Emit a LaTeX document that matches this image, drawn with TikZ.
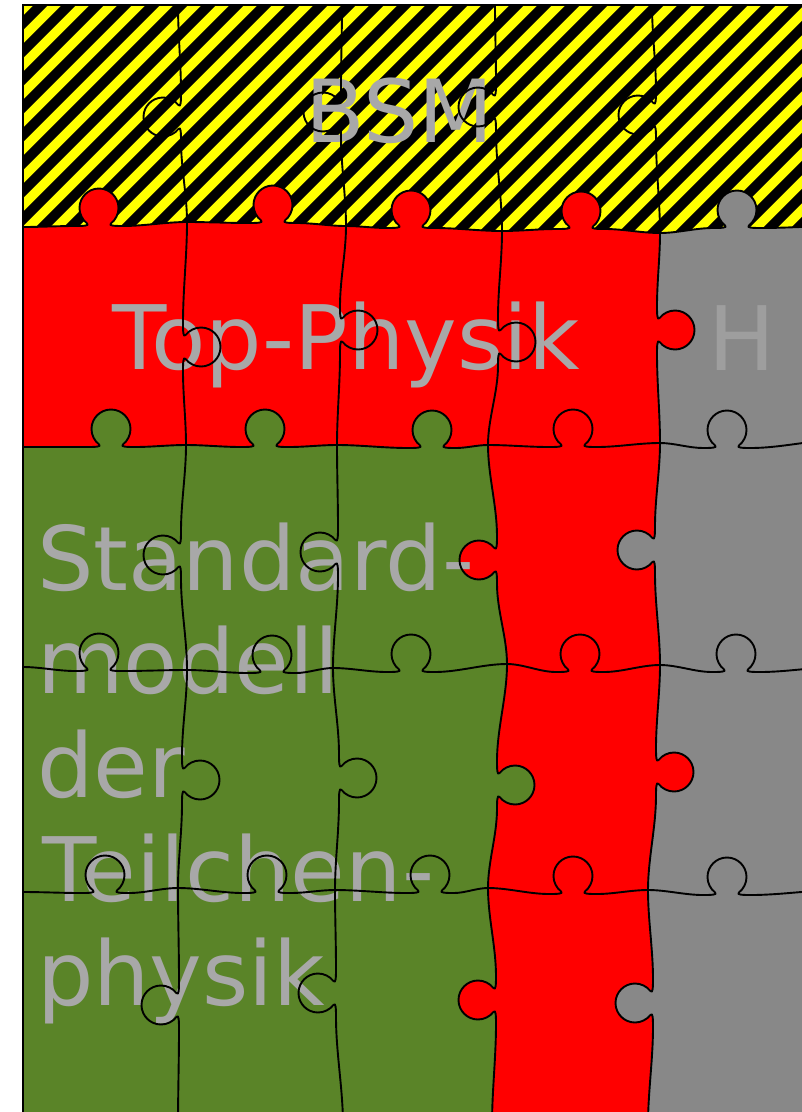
\documentclass[tikz,border=0pt]{standalone}
\usepackage{fontspec}
\setmainfont{DejaVu Sans}

\definecolor{pzred}{RGB}{255,0,0}
\definecolor{pzgreen}{RGB}{90,132,40}
\definecolor{pzgray}{RGB}{136,136,136}
\definecolor{pzyellow}{RGB}{255,255,0}
\definecolor{lbltext}{RGB}{168,168,168}
\definecolor{lblh}{RGB}{158,158,158}

% puzzle knob on a horizontal edge: centre x, base y, travel sign, normal sign
\newcommand\pzhtab[4]{.. controls ({#1-16*(#3)},{#2}) and ({#1-8.85*(#3)},{#2+0.17*(#4)}) .. ({#1-12*(#3)},{#2+2.63*(#4)})
 .. controls ({#1-16.73*(#3)},{#2+6.32*(#4)}) and ({#1-19.5*(#3)},{#2+12*(#4)}) .. ({#1-19.5*(#3)},{#2+18*(#4)})
 .. controls ({#1-19.5*(#3)},{#2+28.77*(#4)}) and ({#1-10.77*(#3)},{#2+37.5*(#4)}) .. ({#1},{#2+37.5*(#4)})
 .. controls ({#1+10.77*(#3)},{#2+37.5*(#4)}) and ({#1+19.5*(#3)},{#2+28.77*(#4)}) .. ({#1+19.5*(#3)},{#2+18*(#4)})
 .. controls ({#1+19.5*(#3)},{#2+12*(#4)}) and ({#1+16.73*(#3)},{#2+6.32*(#4)}) .. ({#1+12*(#3)},{#2+2.63*(#4)})
 .. controls ({#1+8.85*(#3)},{#2+0.17*(#4)}) and ({#1+16*(#3)},{#2}) .. ({#1+24*(#3)},{#2})}
% puzzle knob on a vertical edge: edge x, centre y, travel sign, normal sign
\newcommand\pzvtab[4]{.. controls ({#1},{#2-16*(#3)}) and ({#1+0.17*(#4)},{#2-8.85*(#3)}) .. ({#1+2.63*(#4)},{#2-12*(#3)})
 .. controls ({#1+6.32*(#4)},{#2-16.73*(#3)}) and ({#1+12*(#4)},{#2-19.5*(#3)}) .. ({#1+18*(#4)},{#2-19.5*(#3)})
 .. controls ({#1+28.77*(#4)},{#2-19.5*(#3)}) and ({#1+37.5*(#4)},{#2-10.77*(#3)}) .. ({#1+37.5*(#4)},{#2})
 .. controls ({#1+37.5*(#4)},{#2+10.77*(#3)}) and ({#1+28.77*(#4)},{#2+19.5*(#3)}) .. ({#1+18*(#4)},{#2+19.5*(#3)})
 .. controls ({#1+12*(#4)},{#2+19.5*(#3)}) and ({#1+6.32*(#4)},{#2+16.73*(#3)}) .. ({#1+2.63*(#4)},{#2+12*(#3)})
 .. controls ({#1+0.17*(#4)},{#2+8.85*(#3)}) and ({#1},{#2+16*(#3)}) .. ({#1},{#2+24*(#3)})}
% smooth joins with horizontal / vertical tangents at both ends
\newcommand\pzhcon[4]{.. controls ({(#1)+((#3)-(#1))/3},{#2}) and ({(#3)-((#3)-(#1))/3},{#4}) .. ({#3},{#4})}
\newcommand\pzvcon[4]{.. controls ({#1},{(#2)+((#4)-(#2))/3}) and ({#3},{(#4)-((#4)-(#2))/3}) .. ({#3},{#4})}
% one piece side: corner a, knob position, corner b, travel sign (knob points up)
\newcommand\pzhseg[7]{\pzhcon{#1}{#2}{(#3)-24*(#7)}{#4}\pzhtab{#3}{#4}{#7}{-1}\pzhcon{(#3)+24*(#7)}{#4}{#5}{#6}}
% one piece side: corner a, knob position, corner b, travel sign, knob side
\newcommand\pzvseg[8]{\pzvcon{#1}{#2}{#3}{(#4)-24*(#7)}\pzvtab{#3}{#4}{#7}{#8}\pzvcon{#3}{(#4)+24*(#7)}{#5}{#6}}

\begin{document}
\begin{tikzpicture}[x=1pt,y=-1pt,
  edge/.style={draw=black,line width=1.9pt,line join=round},
  border/.style={draw=black,line width=2.2pt},
  lbl/.style={text=lbltext,inner sep=0pt,outer sep=0pt,anchor=base west,
              font=\fontsize{89}{104}\selectfont}]
\useasboundingbox (0,0) rectangle (802,1112);
\begin{scope}
\clip (0,0) rectangle (802,1112);

% base colour (Higgs column)
\fill[pzgray] (23,5) rectangle (840,1125);

% top-physics pieces
\fill[pzred] (23,227)
  \pzhseg{23}{227}{99}{226}{187}{222}{1}
  \pzhseg{187}{222}{273}{223}{346}{226}{1}
  \pzhseg{346}{226}{411}{228}{502}{231}{1}
  \pzhseg{502}{231}{581}{229}{660}{233}{1}
  \pzvseg{660}{233}{657}{330}{660}{443}{1}{1}
  \pzvseg{660}{443}{655}{550}{660}{665}{1}{-1}
  \pzvseg{660}{665}{656}{772}{648}{890}{1}{1}
  \pzvseg{648}{890}{653}{1003}{648}{1125}{1}{-1}
  -- (492,1125)
  \pzvseg{492}{1125}{496}{1000}{488}{888}{-1}{-1}
  \pzvseg{488}{888}{497}{785}{507}{664}{-1}{1}
  \pzvseg{507}{664}{497}{560}{488}{445}{-1}{-1}
  \pzhseg{488}{445}{432}{448}{337}{445}{-1}
  \pzhseg{337}{445}{265}{447}{186}{445}{-1}
  \pzhseg{186}{445}{111}{447}{23}{447}{-1}
  -- cycle;

% standard-model pieces
\fill[pzgreen] (23,447)
  \pzhseg{23}{447}{111}{447}{186}{445}{1}
  \pzhseg{186}{445}{265}{447}{337}{445}{1}
  \pzhseg{337}{445}{432}{448}{488}{445}{1}
  \pzvseg{488}{445}{497}{560}{507}{664}{1}{-1}
  \pzvseg{507}{664}{497}{785}{488}{888}{1}{1}
  \pzvseg{488}{888}{496}{1000}{492}{1125}{1}{-1}
  -- (23,1125) -- cycle;

% BSM row: yellow with black diagonal stripes
\begin{scope}
\clip (23,5) -- (840,5) -- (840,226)
  \pzhseg{840}{226}{737}{228}{660}{233}{-1}
  \pzhseg{660}{233}{581}{229}{502}{231}{-1}
  \pzhseg{502}{231}{411}{228}{346}{226}{-1}
  \pzhseg{346}{226}{273}{223}{187}{222}{-1}
  \pzhseg{187}{222}{99}{226}{23}{227}{-1}
  -- cycle;
\fill[pzyellow] (0,0) rectangle (840,270);
\foreach \k in {0,28,...,1148}
  \draw[black,line width=10pt] ({\k-300},290) -- ({\k+20},-30);
\end{scope}

% labels
\node[lbl,font=\fontsize{87}{100}\selectfont] (bsm) at (305,142) {BSM};
\node[lbl] (top) at (112,369) {Top-Physik};
\node[lbl,text=lblh] (higgs) at (708,370) {H};
\node[lbl] (sm1) at (37,590) {Standard-};
\node[lbl] (sm2) at (37,693) {modell};
\node[lbl] (sm3) at (37,797) {der};
\node[lbl] (sm4) at (42,901) {Teilchen-};
\node[lbl] (sm5) at (37,1005) {physik};

% horizontal piece borders
\draw[edge] (23,227)
  \pzhseg{23}{227}{99}{226}{187}{222}{1}
  \pzhseg{187}{222}{273}{223}{346}{226}{1}
  \pzhseg{346}{226}{411}{228}{502}{231}{1}
  \pzhseg{502}{231}{581}{229}{660}{233}{1}
  \pzhseg{660}{233}{737}{228}{840}{226}{1};
\draw[edge] (23,447)
  \pzhseg{23}{447}{111}{447}{186}{445}{1}
  \pzhseg{186}{445}{265}{447}{337}{445}{1}
  \pzhseg{337}{445}{432}{448}{488}{445}{1}
  \pzhseg{488}{445}{573}{447}{660}{443}{1}
  \pzhseg{660}{443}{727}{448}{840}{440}{1};
\draw[edge] (23,667)
  \pzhseg{23}{667}{99}{671}{187}{670}{1}
  \pzhseg{187}{670}{272}{673}{333}{668}{1}
  \pzhseg{333}{668}{411}{672}{507}{664}{1}
  \pzhseg{507}{664}{580}{672}{660}{665}{1}
  \pzhseg{660}{665}{736}{672}{840}{667}{1};
\draw[edge] (23,892)
  \pzhseg{23}{892}{105}{893}{178}{888}{1}
  \pzhseg{178}{888}{267}{893}{335}{890}{1}
  \pzhseg{335}{890}{430}{893}{488}{888}{1}
  \pzhseg{488}{888}{573}{894}{648}{890}{1}
  \pzhseg{648}{890}{727}{895}{840}{890}{1};

% vertical piece borders
\draw[edge] (178,5)
  \pzvseg{178}{5}{181}{117}{187}{222}{1}{-1}
  \pzvseg{187}{222}{183}{347}{186}{445}{1}{1}
  \pzvseg{186}{445}{181}{555}{187}{670}{1}{-1}
  \pzvseg{187}{670}{182}{780}{178}{888}{1}{1}
  \pzvseg{178}{888}{179}{1005}{178}{1125}{1}{-1};
\draw[edge] (342,5)
  \pzvseg{342}{5}{341}{112}{346}{226}{1}{-1}
  \pzvseg{346}{226}{340}{330}{337}{445}{1}{1}
  \pzvseg{337}{445}{338}{552}{333}{668}{1}{-1}
  \pzvseg{333}{668}{339}{778}{335}{890}{1}{1}
  \pzvseg{335}{890}{336}{993}{343}{1125}{1}{-1};
\draw[edge] (495,5)
  \pzvseg{495}{5}{496}{107}{502}{231}{1}{-1}
  \pzvseg{502}{231}{498}{342}{488}{445}{1}{1}
  \pzvseg{488}{445}{497}{560}{507}{664}{1}{-1}
  \pzvseg{507}{664}{497}{785}{488}{888}{1}{1}
  \pzvseg{488}{888}{496}{1000}{492}{1125}{1}{-1};
\draw[edge] (652,5)
  \pzvseg{652}{5}{656}{115}{660}{233}{1}{-1}
  \pzvseg{660}{233}{657}{330}{660}{443}{1}{1}
  \pzvseg{660}{443}{655}{550}{660}{665}{1}{-1}
  \pzvseg{660}{665}{656}{772}{648}{890}{1}{1}
  \pzvseg{648}{890}{653}{1003}{648}{1125}{1}{-1};

% outer frame
\draw[border] (23,1125) -- (23,5) -- (840,5);
\end{scope}
\end{tikzpicture}
\end{document}
